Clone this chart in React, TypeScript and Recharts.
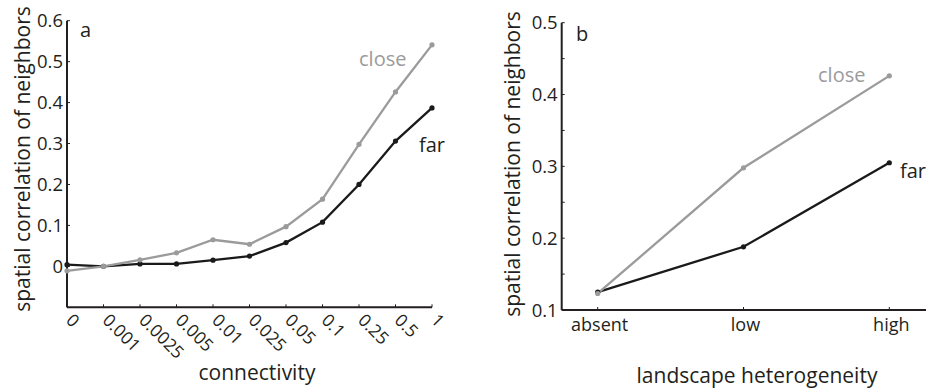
import React from "react"
import { LineChart, Line, XAxis, YAxis } from "recharts"

const connectivity = ["0", "0.001", "0.0025", "0.005", "0.01", "0.025", "0.05", "0.1", "0.25", "0.5", "1"]
const closeA = [-0.011, 0, 0.016, 0.033, 0.065, 0.054, 0.097, 0.164, 0.298, 0.426, 0.541]
const farA = [0.004, 0, 0.006, 0.006, 0.015, 0.025, 0.058, 0.108, 0.2, 0.306, 0.387]
const ticksA = [0, 0.1, 0.2, 0.3, 0.4, 0.5, 0.6]

const heterogeneity = ["absent", "low", "high"]
const closeB = [0.123, 0.298, 0.426]
const farB = [0.125, 0.188, 0.305]
const ticksB = [0.1, 0.15, 0.2, 0.25, 0.3, 0.35, 0.4, 0.45, 0.5]

const dataA = connectivity.map((c, i) => ({ c, close: closeA[i], far: farA[i] }))
const dataB = heterogeneity.map((c, i) => ({ c, close: closeB[i], far: farB[i] }))

const INK = "#231f20"
const GRAY = "#9b9b9b"
const FONT = "'Open Sans', sans-serif"

const YTick = (props: any) => {
  const { x, y, payload } = props
  const v = payload.value as number
  const major = Math.round(v * 100) % 10 === 0
  return (
    <g>
      <line x1={x} x2={x + 3} y1={y} y2={y} stroke={INK} strokeWidth={1} />
      {major && (
        <text x={x - 4} y={y} dy={6.5} textAnchor="end" fontSize={18.5} fill={INK} fontFamily={FONT}>
          {String(v)}
        </text>
      )}
    </g>
  )
}

const XTickRot = (props: any) => {
  const { x, y, payload } = props
  return (
    <g>
      <line x1={x} x2={x} y1={y} y2={y - 3} stroke={INK} strokeWidth={1} />
      <text
        x={x - 2}
        y={y + 14}
        transform={`rotate(45 ${x - 2} ${y + 14})`}
        textAnchor="start"
        fontSize={17.5}
        fill={INK}
        fontFamily={FONT}
      >
        {payload.value}
      </text>
    </g>
  )
}

const XTickFlat = (props: any) => {
  const { x, y, payload } = props
  return (
    <g>
      <line x1={x} x2={x} y1={y} y2={y - 3} stroke={INK} strokeWidth={1} />
      <text x={x + 2} y={y + 21} textAnchor="middle" fontSize={18} fill={INK} fontFamily={FONT}>
        {payload.value}
      </text>
    </g>
  )
}

const axisLine = { stroke: INK, strokeWidth: 2 }

export default function App() {
  return (
    <div style={{ position: "absolute", left: 0, top: 0, width: 932, height: 389, background: "#fff", fontFamily: FONT }}>
      <div style={{ position: "absolute", left: 0, top: 0 }}>
        <LineChart width={460} height={389} data={dataA} margin={{ top: 20.7, right: 28, bottom: 21.7, left: 7 }}>
          <XAxis
            dataKey="c"
            height={60}
            interval={0}
            tickSize={0}
            tickMargin={0}
            tickLine={false}
            axisLine={axisLine}
            tick={<XTickRot />}
          />
          <YAxis
            width={60}
            domain={[-0.1, 0.6]}
            ticks={ticksA}
            interval={0}
            tickSize={0}
            tickMargin={0}
            tickLine={false}
            axisLine={axisLine}
            tick={<YTick />}
          />
          <Line dataKey="far" stroke="#1a1a1a" strokeWidth={2.3} dot={{ r: 2.6, fill: "#1a1a1a", stroke: "none" }} isAnimationActive={false} />
          <Line dataKey="close" stroke={GRAY} strokeWidth={2.3} dot={{ r: 2.6, fill: GRAY, stroke: "none" }} isAnimationActive={false} />
        </LineChart>
      </div>
      <div style={{ position: "absolute", left: 470, top: 0 }}>
        <LineChart width={462} height={389} data={dataB} margin={{ top: 22.7, right: 6, bottom: 39, left: 31.7 }}>
          <XAxis
            dataKey="c"
            height={40}
            interval={0}
            padding={{ left: 36, right: 36.7 }}
            tickSize={0}
            tickMargin={0}
            tickLine={false}
            axisLine={axisLine}
            tick={<XTickFlat />}
          />
          <YAxis
            width={60}
            domain={[0.1, 0.5]}
            ticks={ticksB}
            interval={0}
            tickSize={0}
            tickMargin={0}
            tickLine={false}
            axisLine={axisLine}
            tick={<YTick />}
          />
          <Line dataKey="far" stroke="#1a1a1a" strokeWidth={2.3} dot={{ r: 2.6, fill: "#1a1a1a", stroke: "none" }} isAnimationActive={false} />
          <Line dataKey="close" stroke={GRAY} strokeWidth={2.3} dot={{ r: 2.6, fill: GRAY, stroke: "none" }} isAnimationActive={false} />
        </LineChart>
      </div>
      <svg width={932} height={389} style={{ position: "absolute", left: 0, top: 0, pointerEvents: "none" }} fontFamily={FONT}>
        <text x={80} y={37} fontSize={20} fill={INK}>a</text>
        <text x={359} y={66} fontSize={20} fill={GRAY}>close</text>
        <text x={419} y={152} fontSize={20} fill={INK}>far</text>
        <text x={22} y={159} fontSize={21} fill={INK} textAnchor="middle" dominantBaseline="central" transform="rotate(-90 22 159)">
          spatial correlation of neighbors
        </text>
        <text x={257} y={380} fontSize={21} fill={INK} textAnchor="middle">connectivity</text>

        <text x={576} y={40.7} fontSize={20} fill={INK}>b</text>
        <text x={818} y={81.7} fontSize={20} fill={GRAY}>close</text>
        <text x={900} y={178.3} fontSize={20} fill={INK}>far</text>
        <text x={512} y={164} fontSize={21} fill={INK} textAnchor="middle" dominantBaseline="central" transform="rotate(-90 512 164)">
          spatial correlation of neighbors
        </text>
        <text x={757} y={383} fontSize={21} fill={INK} textAnchor="middle">landscape heterogeneity</text>
      </svg>
    </div>
  )
}
